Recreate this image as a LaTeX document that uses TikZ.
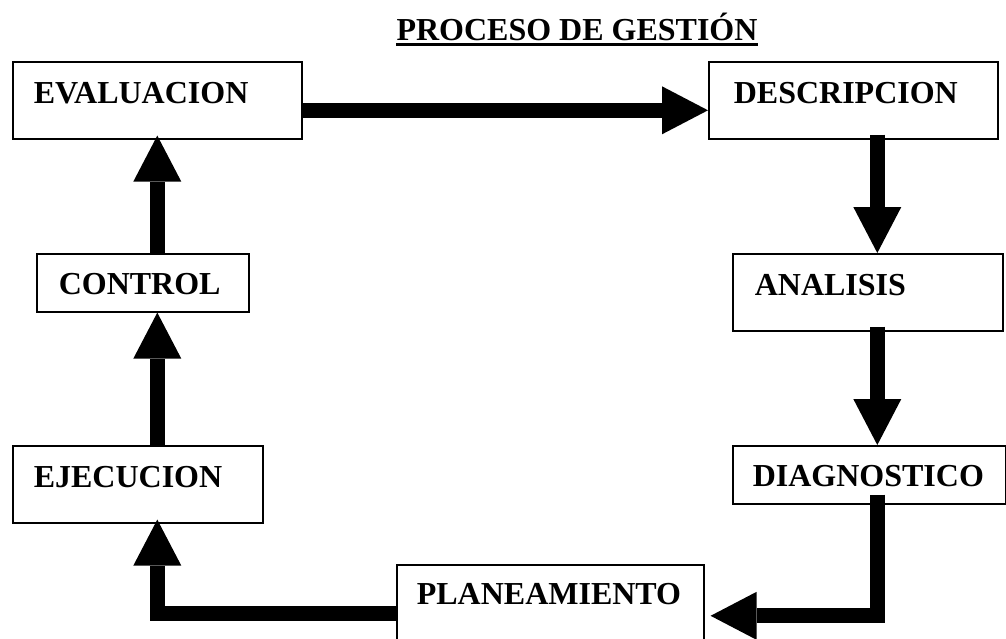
\documentclass[tikz,border=0pt]{standalone}
\usepackage{fontspec}
\setmainfont{Liberation Serif}
\usetikzlibrary{arrows.meta}
\newcommand\stagefont{\fontsize{32}{38}\selectfont\bfseries}

\tikzset{
  stage/.style={draw, line width=1.6pt, anchor=north west, inner ysep=0pt,
    align=left, font=\stagefont},
  flow/.style={line width=15pt, line join=miter,
    -{Triangle[width=48pt,length=46pt,line width=0pt]}},
}

\begin{document}
\begin{tikzpicture}[x=1pt, y=-1pt]
\useasboundingbox (0,0) rectangle (1006,638);
\clip (0,0) rectangle (1006,638);

% title
\node[inner sep=0pt, anchor=base, font=\stagefont] (title) at (577,40.5) {PROCESO DE GESTIÓN};
\draw[line width=3pt] ([yshift=-3.5pt]title.base west) -- ([yshift=-3.5pt]title.base east);

% stages of the cycle
\node[stage, inner xsep=21pt, text width=247pt, text height=42pt, text depth=35pt] (eval) at (12,61) {EVALUACION};
\node[stage, inner xsep=25pt, text width=239pt, text height=42pt, text depth=35pt] (desc) at (708,61) {DESCRIPCION};
\node[stage, inner xsep=22pt, text width=168pt, text height=41pt, text depth=17pt] (ctrl) at (36,253) {CONTROL};
\node[stage, inner xsep=22pt, text width=226pt, text height=42pt, text depth=35pt] (ana) at (732,253) {ANALISIS};
\node[stage, inner xsep=21pt, text width=208pt, text height=42pt, text depth=35pt] (ejec) at (12,445) {EJECUCION};
\node[stage, inner xsep=20pt, text width=233pt, text height=41pt, text depth=17pt] (diag) at (732,445) {DIAGNOSTICO};
\node[stage, inner xsep=20pt, text width=267pt, text height=40pt, text depth=62pt] (plan) at (396,564) {PLANEAMIENTO};

% connectors
\draw[flow] ([yshift=-10pt]eval.east) -- ([yshift=-10pt]desc.west);
\draw[flow] ([xshift=24pt,yshift=5pt]desc.south) -- ([xshift=24pt]desc.south |- ana.north);
\draw[flow] ([xshift=9.5pt,yshift=5pt]ana.south) -- ([xshift=9.5pt]ana.south |- diag.north);
\draw[flow] ([xshift=8pt,yshift=10pt]diag.south) |- ([xshift=6pt]plan.east);
\draw[flow] ([yshift=2pt]plan.west) -| ([xshift=19.5pt,yshift=4pt]ejec.south);
\draw[flow] ([xshift=19.5pt]ejec.north) -- ([xshift=19.5pt]ejec.north |- ctrl.south);
\draw[flow] ([xshift=14.5pt]ctrl.north) -- ([xshift=14.5pt,yshift=4pt]ctrl.north |- eval.south);
\end{tikzpicture}
\end{document}
